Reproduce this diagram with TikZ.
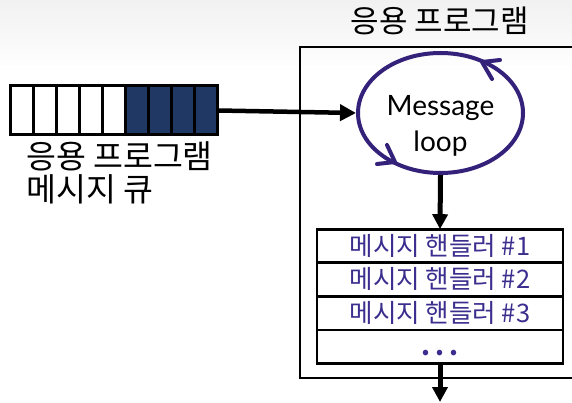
\documentclass[tikz,border=0pt]{standalone}
\usepackage{fontspec}
\newfontfamily\kr{Noto Sans CJK KR}
\newfontfamily\lat{Lato}
\usetikzlibrary{arrows.meta,shapes.geometric,calc}
\definecolor{qnavy}{HTML}{1F3864}
\definecolor{loopc}{HTML}{33217A}
\definecolor{hndtxt}{HTML}{3B2E8E}
\definecolor{topgray}{HTML}{F1F1F1}
\begin{document}
\begin{tikzpicture}[x=1pt,y=-1pt,
  cell/.style={draw=black, line width=3pt, minimum width=23.1pt, minimum height=49pt, inner sep=0pt, outer sep=0pt},
  hrow/.style={draw=black, line width=2.7pt, minimum width=246pt, minimum height=33.6pt, inner sep=0pt, outer sep=0pt,
    text=hndtxt, font=\kr\fontsize{25.5}{28}\selectfont, text height=23pt, text depth=5pt},
  bigarr/.style={line width=4.5pt, -{Triangle[length=16pt,width=16pt]}},
  downarr/.style={line width=5pt, -{Triangle[length=15pt,width=15pt]}},
  chev/.style={loopc, line width=4pt, line cap=round, line join=round}]
  % canvas and faint top band
  \useasboundingbox (0,0) rectangle (572,403);
  \clip (0,0) rectangle (572,403);
  \fill[white] (0,0) rectangle (572,403);
  \shade[top color=topgray, bottom color=white] (0,0) rectangle (572,72);

  % application frame (right side runs off the page)
  \draw[line width=2.5pt] (590,47) -- (300,47) -- (300,378) -- (590,378);
  \node[font=\kr\fontsize{31}{33}\selectfont] (title) at (440,21) {응용 프로그램};

  % message queue
  \foreach \i in {0,...,8}{
    \pgfmathsetmacro\cx{10+23.1*\i+11.55}
    \ifnum\i<5
      \node[cell, fill=white] (q\i) at (\cx,110.5) {};
    \else
      \node[cell, fill=qnavy] (q\i) at (\cx,110.5) {};
    \fi
  }
  \node[anchor=north west, align=left, inner sep=0pt,
        font=\kr\fontsize{32.5}{33}\selectfont] (qlabel) at (26,141) {응용 프로그램\\메시지 큐};

  % message loop
  \node[ellipse, draw=loopc, line width=4pt, minimum width=165pt, minimum height=120pt,
        inner sep=0pt] (loop) at (440.5,113) {};
  \node[align=center, font=\lat\fontsize{28}{36}\selectfont, inner sep=0pt]
        (looptext) at ($(loop.center)+(0,13)$) {Message\\loop};
  \draw[chev] (500,60) -- (482,62) -- (492,79);
  \draw[chev] (377,164) -- (395,162) -- (387,145);

  % message handlers
  \node[hrow] (h1) at (440,246) {메시지 핸들러 \#1};
  \node[hrow] (h2) at (440,279.6) {메시지 핸들러 \#2};
  \node[hrow] (h3) at (440,313.2) {메시지 핸들러 \#3};
  \node[hrow] (h4) at (440,346.8) {\bfseries .\kern5pt.\kern5pt.};
  \coordinate (out) at (440,402);

  % connectors
  \draw[bigarr] (q8.east) -- (loop.west);
  \draw[downarr] (loop.south) -- (h1.north);
  \draw[downarr] (h4.south) -- (out);
\end{tikzpicture}
\end{document}
